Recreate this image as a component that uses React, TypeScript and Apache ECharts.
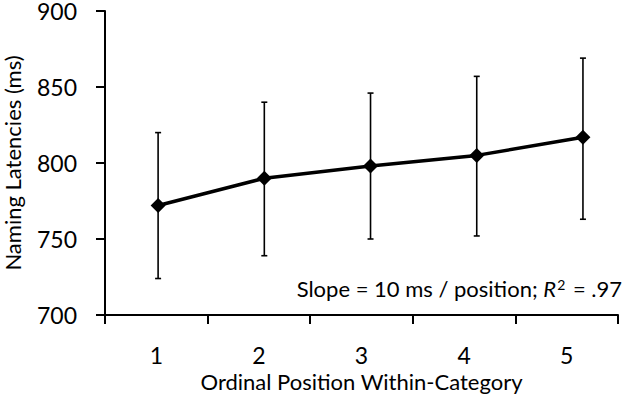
import React, { useEffect, useRef } from 'react';
import * as echarts from 'echarts';

const categories = ['1', '2', '3', '4', '5'];
const positions = [1, 2, 3, 4, 5];
const latencies = [772, 790, 798, 805, 817];
const errLow = [724, 739, 750, 752, 763];
const errHigh = [820, 840, 846, 857, 869];
const yMin = 700;
const yMax = 900;
const yStep = 50;
const yTitle = 'Naming Latencies (ms)';
const xTitle = 'Ordinal Position Within-Category';

const FONT = 'Lato';

export default function App() {
  const ref = useRef<HTMLDivElement>(null);
  useEffect(() => {
    if (!ref.current) return;
    const chart = echarts.init(ref.current, null, { renderer: 'svg' });
    const lineData = positions.map((p, i) => [p, latencies[i]]);
    const errData = positions.map((p, i) => [p, errLow[i], errHigh[i]]);
    chart.setOption({
      animation: false,
      backgroundColor: '#ffffff',
      textStyle: { fontFamily: FONT, color: '#000' },
      grid: { left: 105, right: 22, top: 11, bottom: 88, containLabel: false, outerBoundsMode: 'none' },
      xAxis: [
        {
          type: 'category',
          data: categories,
          boundaryGap: true,
          position: 'bottom',
          axisLine: { show: true, lineStyle: { color: '#000', width: 2 } },
          axisTick: { show: true, alignWithLabel: false, length: 9, lineStyle: { color: '#000', width: 2 } },
          axisLabel: { fontSize: 23, color: '#000', fontFamily: FONT, margin: 28 },
          splitLine: { show: false },
          name: xTitle,
          nameLocation: 'middle',
          nameGap: 55,
          nameTextStyle: { fontSize: 22, color: '#000', fontFamily: FONT },
        },
        {
          type: 'value',
          min: 0.5,
          max: 5.33,
          show: false,
          position: 'bottom',
        },
      ],
      yAxis: {
        type: 'value',
        min: yMin,
        max: yMax,
        interval: yStep,
        axisLine: { show: true, lineStyle: { color: '#000', width: 2 } },
        axisTick: { show: true, length: 9, lineStyle: { color: '#000', width: 2 } },
        axisLabel: { fontSize: 23, lineHeight: 20, padding: [4, 0, 0, 0], color: '#000', fontFamily: FONT, margin: 28 },
        splitLine: { show: false },
        name: yTitle,
        nameLocation: 'middle',
        nameGap: 82,
        nameTextStyle: { fontSize: 22, color: '#000', fontFamily: FONT },
      },
      series: [
        {
          type: 'custom',
          xAxisIndex: 1,
          yAxisIndex: 0,
          encode: { x: 0, y: [1, 2] },
          data: errData,
          z: 2,
          renderItem: (params: any, api: any) => {
            const x = api.value(0);
            const lo = api.coord([x, api.value(1)]);
            const hi = api.coord([x, api.value(2)]);
            const cap = 3;
            const st = { stroke: '#000', lineWidth: 1.6 };
            return {
              type: 'group',
              children: [
                { type: 'line', shape: { x1: lo[0], y1: lo[1], x2: hi[0], y2: hi[1] }, style: st },
                { type: 'line', shape: { x1: lo[0] - cap, y1: lo[1], x2: lo[0] + cap, y2: lo[1] }, style: st },
                { type: 'line', shape: { x1: hi[0] - cap, y1: hi[1], x2: hi[0] + cap, y2: hi[1] }, style: st },
              ],
            };
          },
        },
        {
          type: 'line',
          xAxisIndex: 1,
          yAxisIndex: 0,
          data: lineData,
          symbol: 'diamond',
          symbolSize: 15,
          z: 3,
          lineStyle: { color: '#000', width: 3.5 },
          itemStyle: { color: '#000' },
        },
      ],
      graphic: [
        {
          type: 'text',
          right: 18,
          top: 277,
          style: {
            text: 'Slope = 10 ms / position; {i|R}{s|2} = .97',
            font: `22px ${FONT}`,
            fill: '#000',
            rich: {
              i: { fontStyle: 'italic', fontSize: 22, fontFamily: FONT, fill: '#000' },
              s: { fontSize: 14, fontFamily: FONT, fill: '#000', verticalAlign: 'top', lineHeight: 14, padding: [0, 2, 0, 1] },
            },
          },
        },
      ],
    });
    return () => chart.dispose();
  }, []);
  return (
    <div
      ref={ref}
      style={{ position: 'fixed', left: 0, top: 0, width: 640, height: 403, background: '#fff' }}
    />
  );
}
